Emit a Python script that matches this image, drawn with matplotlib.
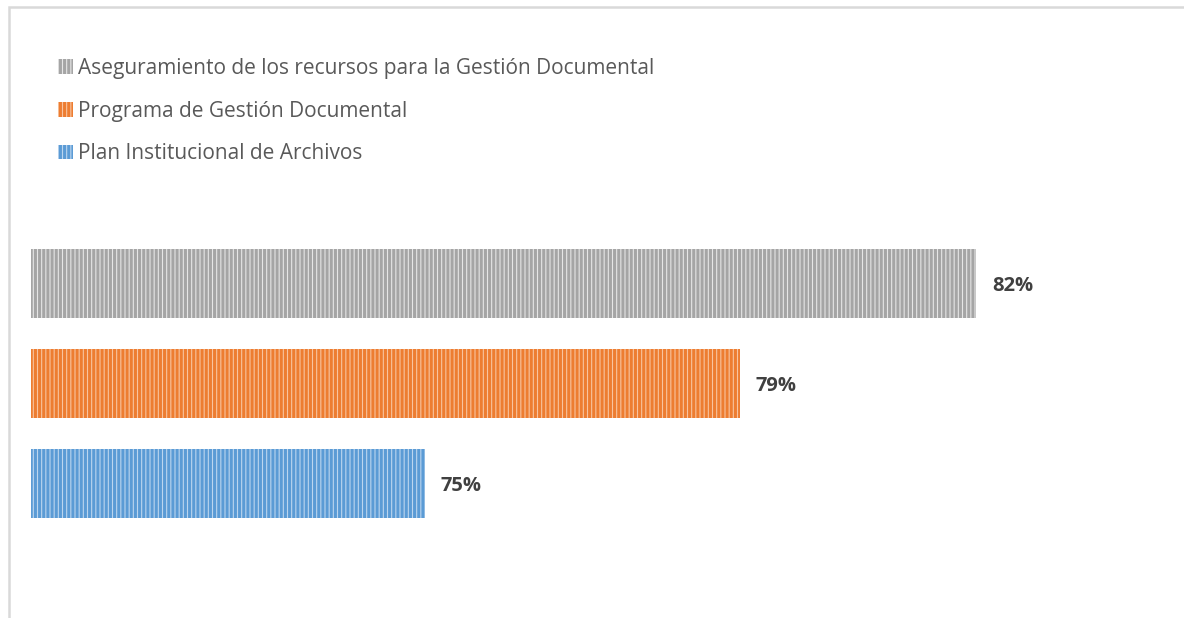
import matplotlib.pyplot as plt
from matplotlib.patches import Patch, Rectangle

plt.rcParams['font.family'] = ['Open Sans', 'DejaVu Sans']
plt.rcParams['hatch.linewidth'] = 2.2

categorias = ['Plan Institucional de Archivos',
              'Programa de Gestión Documental',
              'Aseguramiento de los recursos para la Gestión Documental']
valores = [0.75, 0.79, 0.82]
etiquetas = ['75%', '79%', '82%']
color_fondo = ['#bcd6ef', '#f8c4a0', '#e6e6e6']
color_raya = ['#5b9bd5', '#ed7d31', '#a5a5a5']

W, H = 1184, 618
fig = plt.figure(figsize=(W / 100, H / 100), dpi=100)
ax = fig.add_axes([31 / W, 34 / H, (1134 - 31) / W, 401 / H])

xmin = 0.70
for i in range(len(valores)):
    ax.barh(i, valores[i] - xmin, left=xmin, height=0.69,
            facecolor=color_fondo[i], edgecolor=color_raya[i],
            linewidth=0, hatch='||||')
    ax.text(valores[i] + 0.002, i, etiquetas[i], va='center_baseline',
            ha='left', fontsize=14.5, fontweight='bold', color='#404040')

ax.set_xlim(xmin, 0.84)
ax.set_ylim(-1, 3)
ax.axis('off')

# leyenda (orden invertido como en el original)
handles = [Patch(facecolor=color_fondo[i], edgecolor=color_raya[i],
                 linewidth=0, hatch='||||') for i in range(len(valores))][::-1]
fig.legend(handles, categorias[::-1], loc='upper left',
           bbox_to_anchor=(39.5 / W, 1 - 39 / H), frameon=False,
           fontsize=15, labelcolor='#595959', handlelength=0.7,
           handleheight=0.7, handletextpad=0.25, labelspacing=1.05)

# marco del área del gráfico
fig.add_artist(Rectangle((9 / W, -0.5), 2, 0.5 + (H - 7) / H,
                         transform=fig.transFigure, fill=False,
                         edgecolor='#d9d9d9', linewidth=1.8))

fig.savefig('out.png', dpi=100)
